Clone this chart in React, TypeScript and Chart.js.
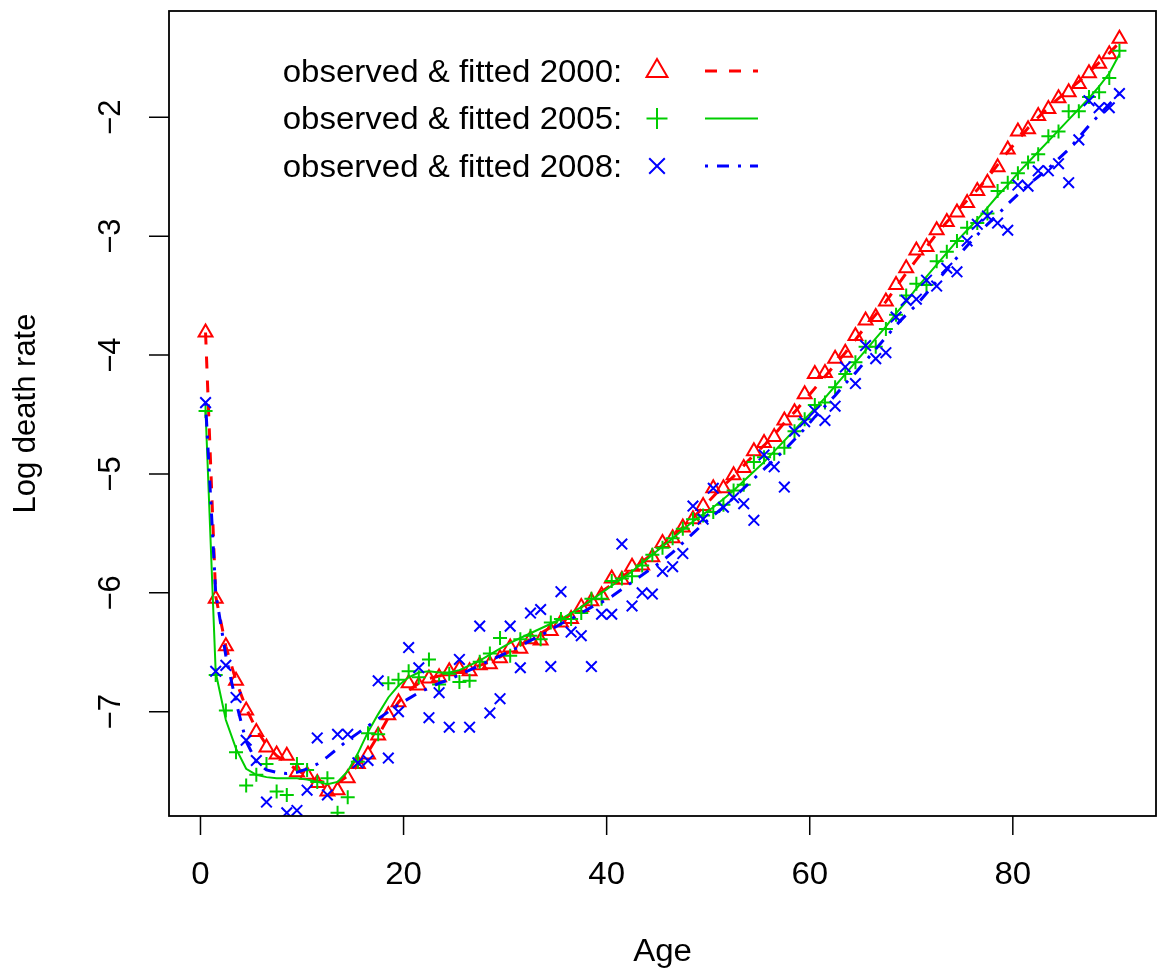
import React, { useEffect, useRef } from "react";
import { Chart, registerables } from "chart.js";

Chart.register(...registerables);

// ---------- data ----------
const ages = [
  0.5, 1.5, 2.5, 3.5, 4.5, 5.5, 6.5, 7.5, 8.5, 9.5,
  10.5, 11.5, 12.5, 13.5, 14.5, 15.5, 16.5, 17.5, 18.5, 19.5,
  20.5, 21.5, 22.5, 23.5, 24.5, 25.5, 26.5, 27.5, 28.5, 29.5,
  30.5, 31.5, 32.5, 33.5, 34.5, 35.5, 36.5, 37.5, 38.5, 39.5,
  40.5, 41.5, 42.5, 43.5, 44.5, 45.5, 46.5, 47.5, 48.5, 49.5,
  50.5, 51.5, 52.5, 53.5, 54.5, 55.5, 56.5, 57.5, 58.5, 59.5,
  60.5, 61.5, 62.5, 63.5, 64.5, 65.5, 66.5, 67.5, 68.5, 69.5,
  70.5, 71.5, 72.5, 73.5, 74.5, 75.5, 76.5, 77.5, 78.5, 79.5,
  80.5, 81.5, 82.5, 83.5, 84.5, 85.5, 86.5, 87.5, 88.5, 89.5,
  90.5,
];

const observed2000 = [
  -3.81, -6.05, -6.45, -6.74, -6.99, -7.17, -7.3, -7.36, -7.37, -7.51,
  -7.53, -7.6, -7.67, -7.66, -7.56, -7.44, -7.36, -7.2, -7.03, -6.92,
  -6.76, -6.78, -6.72, -6.71, -6.66, -6.64, -6.66, -6.61, -6.6, -6.55,
  -6.46, -6.47, -6.39, -6.4, -6.32, -6.25, -6.22, -6.12, -6.07, -6.02,
  -5.88, -5.89, -5.78, -5.77, -5.7, -5.58, -5.54, -5.45, -5.38, -5.27,
  -5.12, -5.12, -5.01, -4.95, -4.81, -4.74, -4.69, -4.55, -4.48, -4.33,
  -4.16, -4.15, -4.03, -3.98, -3.84, -3.71, -3.68, -3.55, -3.41, -3.27,
  -3.12, -3.09, -2.95, -2.88, -2.8, -2.72, -2.62, -2.55, -2.42, -2.27,
  -2.12, -2.1, -1.99, -1.93, -1.84, -1.79, -1.72, -1.63, -1.55, -1.47,
  -1.34,
];

const observed2005 = [
  -4.47, -6.69, -6.99, -7.34, -7.62, -7.53, -7.44, -7.67, -7.7, -7.44,
  -7.49, -7.59, -7.56, -7.85, -7.72, -7.42, -7.18, -7.19, -6.76, -6.73,
  -6.66, -6.71, -6.56, -6.77, -6.68, -6.75, -6.74, -6.58, -6.51, -6.38,
  -6.53, -6.39, -6.36, -6.39, -6.25, -6.22, -6.22, -6.17, -6.05, -6.05,
  -5.9, -5.88, -5.86, -5.77, -5.68, -5.62, -5.54, -5.46, -5.38, -5.35,
  -5.32, -5.26, -5.14, -5.09, -4.9, -4.86, -4.83, -4.78, -4.64, -4.54,
  -4.42, -4.4, -4.27, -4.16, -4.06, -3.93, -3.93, -3.78, -3.66, -3.5,
  -3.4, -3.41, -3.21, -3.13, -3.04, -2.93, -2.89, -2.81, -2.62, -2.55,
  -2.47, -2.38, -2.31, -2.16, -2.12, -1.95, -1.95, -1.83, -1.79, -1.67,
  -1.44,
];

const observed2008 = [
  -4.4, -6.66, -6.61, -6.88, -7.24, -7.41, -7.76, -8.05, -7.85, -7.83,
  -7.66, -7.22, -7.7, -7.19, -7.19, -7.43, -7.41, -6.74, -7.39, -7.0,
  -6.46, -6.63, -7.05, -6.84, -7.13, -6.56, -7.13, -6.28, -7.01, -6.89,
  -6.28, -6.63, -6.17, -6.14, -6.62, -5.99, -6.33, -6.36, -6.62, -6.18,
  -6.18, -5.59, -6.11, -6.0, -6.01, -5.82, -5.78, -5.67, -5.27, -5.38,
  -5.12, -5.28, -5.2, -5.25, -5.39, -4.84, -4.94, -5.11, -4.64, -4.56,
  -4.47, -4.55, -4.43, -4.1, -4.24, -3.92, -4.03, -3.98, -3.68, -3.54,
  -3.53, -3.37, -3.42, -3.27, -3.3, -3.04, -2.9, -2.83, -2.89, -2.95,
  -2.57, -2.58, -2.45, -2.45, -2.39, -2.55, -2.19, -1.86, -1.92, -1.92,
  -1.8,
];

const fitted2000 = [
  -3.81, -6.03, -6.45, -6.74, -6.97, -7.15, -7.28, -7.37, -7.43, -7.49,
  -7.54, -7.58, -7.6, -7.6, -7.54, -7.45, -7.34, -7.2, -7.05, -6.92,
  -6.82, -6.76, -6.72, -6.7, -6.68, -6.66, -6.64, -6.61, -6.58, -6.54,
  -6.49, -6.44, -6.39, -6.34, -6.29, -6.23, -6.18, -6.12, -6.06, -5.99,
  -5.93, -5.87, -5.8, -5.74, -5.67, -5.6, -5.53, -5.45, -5.37, -5.28,
  -5.19, -5.1, -5.02, -4.93, -4.84, -4.76, -4.67, -4.57, -4.48, -4.38,
  -4.28, -4.18, -4.08, -3.98, -3.87, -3.76, -3.66, -3.55, -3.43, -3.31,
  -3.2, -3.09, -2.98, -2.88, -2.79, -2.7, -2.61, -2.51, -2.4, -2.29,
  -2.19, -2.09, -2.0, -1.92, -1.84, -1.77, -1.7, -1.62, -1.54, -1.46,
  -1.37,
];

const fitted2005 = [
  -4.47, -6.67, -7.07, -7.31, -7.48, -7.53, -7.55, -7.56, -7.56, -7.56,
  -7.57, -7.59, -7.61, -7.59, -7.5, -7.35, -7.17, -7.02, -6.88, -6.78,
  -6.71, -6.67, -6.66, -6.67, -6.67, -6.65, -6.61, -6.57, -6.52, -6.47,
  -6.42, -6.38, -6.34, -6.3, -6.26, -6.22, -6.17, -6.12, -6.06, -6.0,
  -5.94, -5.88, -5.82, -5.75, -5.68, -5.61, -5.54, -5.47, -5.4, -5.34,
  -5.28, -5.21, -5.14, -5.06, -4.98, -4.9, -4.81, -4.72, -4.63, -4.54,
  -4.45, -4.36, -4.26, -4.16, -4.06, -3.96, -3.86, -3.76, -3.65, -3.55,
  -3.44, -3.34, -3.24, -3.14, -3.04, -2.95, -2.86, -2.76, -2.66, -2.57,
  -2.47, -2.38, -2.29, -2.2, -2.11, -2.02, -1.93, -1.84, -1.74, -1.63,
  -1.47,
];

const fitted2008 = [
  -4.4, -6.0, -6.53, -6.92, -7.25, -7.42, -7.49, -7.51, -7.52, -7.51,
  -7.48, -7.44, -7.38, -7.31, -7.24, -7.18, -7.12, -7.06, -7.0, -6.94,
  -6.89, -6.84, -6.8, -6.76, -6.73, -6.69, -6.65, -6.61, -6.57, -6.53,
  -6.49, -6.45, -6.4, -6.36, -6.31, -6.26, -6.22, -6.17, -6.12, -6.08,
  -6.03, -5.97, -5.91, -5.85, -5.79, -5.73, -5.66, -5.58, -5.5, -5.42,
  -5.35, -5.28, -5.2, -5.12, -5.04, -4.96, -4.88, -4.8, -4.71, -4.62,
  -4.52, -4.43, -4.34, -4.24, -4.15, -4.05, -3.95, -3.85, -3.75, -3.66,
  -3.58, -3.48, -3.38, -3.28, -3.18, -3.08, -2.99, -2.9, -2.82, -2.73,
  -2.65, -2.57, -2.5, -2.43, -2.35, -2.27, -2.17, -2.07, -1.98, -1.89,
  -1.8,
];

const xTicks = [0, 20, 40, 60, 80];
const yTicks = [-7, -6, -5, -4, -3, -2];
const xTitle = "Age";
const yTitle = "Log death rate";
const legendLabels = [
  "observed & fitted 2000:",
  "observed & fitted 2005:",
  "observed & fitted 2008:",
];

// ---------- styles ----------
const RED = "#FF0000";
const GREEN = "#00CD00";
const BLUE = "#0000FF";
const FONT = '"Liberation Sans", Arial, Helvetica, sans-serif';
const FONT_PX = 31;
const HSCALE = 1.065;

const toPts = (ys: number[]) => ages.map((a, i) => ({ x: a, y: ys[i] }));

function fmtTick(v: number): string {
  return v < 0 ? "\u2212" + String(Math.abs(v)) : String(v);
}

const rAxesPlugin = {
  id: "rAxes",
  afterDraw(chart: any) {
    const ctx: CanvasRenderingContext2D = chart.ctx;
    const { left, right, top, bottom } = chart.chartArea;
    const xs = chart.scales.x;
    const ys = chart.scales.y;
    ctx.save();
    ctx.strokeStyle = "#000";
    ctx.fillStyle = "#000";
    ctx.lineWidth = 1.8;
    ctx.setLineDash([]);
    ctx.strokeRect(left, top, right - left, bottom - top);

    ctx.lineWidth = 1.5;
    ctx.beginPath();
    xTicks.forEach((v) => {
      const px = xs.getPixelForValue(v);
      ctx.moveTo(px, bottom);
      ctx.lineTo(px, bottom + 19);
    });
    yTicks.forEach((v) => {
      const py = ys.getPixelForValue(v);
      ctx.moveTo(left - 20, py);
      ctx.lineTo(left, py);
    });
    ctx.stroke();

    ctx.font = `${FONT_PX}px ${FONT}`;
    ctx.textBaseline = "alphabetic";

    const hText = (t: string, x: number, y: number, align: CanvasTextAlign) => {
      ctx.save();
      ctx.translate(x, y);
      ctx.scale(HSCALE, 1);
      ctx.textAlign = align;
      ctx.fillText(t, 0, 0);
      ctx.restore();
    };
    const vText = (t: string, x: number, y: number) => {
      ctx.save();
      ctx.translate(x, y);
      ctx.rotate(-Math.PI / 2);
      ctx.textAlign = "center";
      ctx.fillText(t, 0, 0);
      ctx.restore();
    };

    xTicks.forEach((v) => hText(String(v), xs.getPixelForValue(v), 884, "center"));
    yTicks.forEach((v) => vText(fmtTick(v), 120, ys.getPixelForValue(v)));
    hText(xTitle, (left + right) / 2, 961, "center");
    vText(yTitle, 35, (top + bottom) / 2);

    // legend
    const rowBase = [81.7, 129.3, 176.7];
    const rowMid = [71, 118.5, 166];
    const colors = [RED, GREEN, BLUE];
    const dashes = [[12, 12], [], [3, 9, 12, 9]];
    const widths = [3, 2, 3];
    legendLabels.forEach((lab, i) => {
      ctx.fillStyle = "#000";
      hText(lab, 282.7, rowBase[i], "left");
      const cx = 657;
      const cy = rowMid[i];
      ctx.strokeStyle = colors[i];
      ctx.lineWidth = 2;
      ctx.setLineDash([]);
      ctx.beginPath();
      if (i === 0) {
        const r = 12.1;
        for (let k = 0; k < 3; k++) {
          const a = (k * 2 * Math.PI) / 3;
          const px = cx + Math.sin(a) * r;
          const py = cy - Math.cos(a) * r;
          if (k === 0) ctx.moveTo(px, py);
          else ctx.lineTo(px, py);
        }
        ctx.closePath();
      } else if (i === 1) {
        ctx.moveTo(cx - 10.5, cy);
        ctx.lineTo(cx + 10.5, cy);
        ctx.moveTo(cx, cy - 10.5);
        ctx.lineTo(cx, cy + 10.5);
      } else {
        const d = 7.8;
        ctx.moveTo(cx - d, cy - d);
        ctx.lineTo(cx + d, cy + d);
        ctx.moveTo(cx + d, cy - d);
        ctx.lineTo(cx - d, cy + d);
      }
      ctx.stroke();
      ctx.lineWidth = widths[i];
      ctx.setLineDash(dashes[i]);
      ctx.beginPath();
      ctx.moveTo(705, cy);
      ctx.lineTo(758, cy);
      ctx.stroke();
    });
    ctx.restore();
  },
};

export default function App() {
  const canvasRef = useRef<HTMLCanvasElement | null>(null);

  useEffect(() => {
    if (!canvasRef.current) return;
    const pointCommon = {
      showLine: false,
      pointBackgroundColor: "rgba(0,0,0,0)",
      backgroundColor: "rgba(0,0,0,0)",
      pointBorderWidth: 2,
      clip: 0,
    };
    const lineCommon = {
      showLine: true,
      pointRadius: 0,
      pointHoverRadius: 0,
      tension: 0,
      fill: false,
      clip: 0,
      backgroundColor: "rgba(0,0,0,0)",
    };
    const chart = new Chart(canvasRef.current, {
      type: "scatter",
      data: {
        datasets: [
          {
            ...pointCommon,
            label: "observed 2000",
            data: toPts(observed2000),
            pointStyle: "triangle",
            pointRadius: 8,
            borderColor: RED,
            pointBorderColor: RED,
            order: 6,
          },
          {
            ...lineCommon,
            label: "fitted 2000",
            data: toPts(fitted2000),
            borderColor: RED,
            borderWidth: 3,
            borderDash: [12, 12],
            order: 5,
          },
          {
            ...pointCommon,
            label: "observed 2005",
            data: toPts(observed2005),
            pointStyle: "cross",
            pointRadius: 7,
            borderColor: GREEN,
            pointBorderColor: GREEN,
            order: 4,
          },
          {
            ...lineCommon,
            label: "fitted 2005",
            data: toPts(fitted2005),
            borderColor: GREEN,
            borderWidth: 2,
            order: 3,
          },
          {
            ...pointCommon,
            label: "observed 2008",
            data: toPts(observed2008),
            pointStyle: "crossRot",
            pointRadius: 7.5,
            borderColor: BLUE,
            pointBorderColor: BLUE,
            order: 2,
          },
          {
            ...lineCommon,
            label: "fitted 2008",
            data: toPts(fitted2008),
            borderColor: BLUE,
            borderWidth: 3,
            borderDash: [3, 9, 12, 9],
            order: 1,
          },
        ] as any,
      },
      options: {
        animation: false,
        responsive: false,
        devicePixelRatio: 1,
        layout: { padding: { left: 169, right: 4, top: 11, bottom: 156 } },
        scales: {
          x: { type: "linear", min: -3.1, max: 94.1, display: false },
          y: { type: "linear", min: -7.877, max: -1.106, display: false },
        },
        plugins: {
          legend: { display: false },
          tooltip: { enabled: false },
        },
        events: [],
      } as any,
      plugins: [rAxesPlugin],
    });
    return () => chart.destroy();
  }, []);

  return (
    <div
      style={{
        position: "absolute",
        left: 0,
        top: 0,
        width: 1166,
        height: 972,
        background: "#fff",
      }}
    >
      <canvas ref={canvasRef} width={1166} height={972} />
    </div>
  );
}
